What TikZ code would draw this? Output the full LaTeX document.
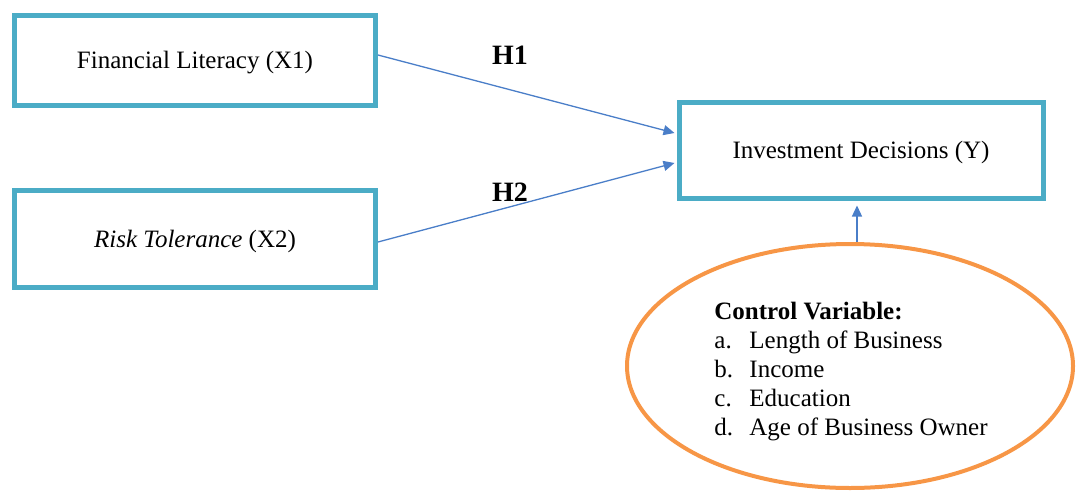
\documentclass[tikz,border=0pt]{standalone}
\usepackage{fontspec}
\setmainfont{Liberation Serif}
\usepackage{tikz}
\usetikzlibrary{shapes,arrows.meta}

\definecolor{boxteal}{HTML}{4BACC6}
\definecolor{ctrlorange}{HTML}{F79646}
\definecolor{linkblue}{HTML}{4A7EC8}

\newcommand{\ctrlitem}[2]{\makebox[17.5pt][l]{#1}#2}

\tikzset{
  varbox/.style={draw=boxteal,line width=2.5pt,rectangle,minimum width=180.5pt,
    font=\fontsize{12.5}{14.5}\selectfont,inner sep=0pt,text depth=0pt},
  ctrlbox/.style={draw=ctrlorange,line width=2pt,ellipse,minimum width=223pt,
    minimum height=122pt,inner sep=0pt},
  ctrltext/.style={align=left,inner sep=0pt,font=\fontsize{12.5}{14.5}\selectfont},
  link/.style={draw=linkblue,line width=0.65pt,-{Triangle[length=5.5pt,width=5pt]}},
  hyp/.style={font=\fontsize{14}{16}\selectfont\bfseries}
}

\begin{document}
\begin{tikzpicture}[x=0.5pt,y=-0.5pt]
\useasboundingbox (0,0) rectangle (1076,493);
\node[varbox,minimum height=45pt] (fin) at (195,60) {Financial Literacy (X1)};
\node[varbox,minimum height=48.5pt] (risk) at (195,239) {\textit{Risk Tolerance} (X2)};
\node[varbox,minimum width=182pt,minimum height=48pt] (inv) at (861,150) {Investment Decisions (Y)};
\node[ctrlbox] (ctrl) at (850,366) {};
\node[ctrltext] (ctrlvars) at (851,372) {\textbf{Control Variable:}\\
  \ctrlitem{a.}{Length of Business}\\
  \ctrlitem{b.}{Income}\\
  \ctrlitem{c.}{Education}\\
  \ctrlitem{d.}{Age of Business Owner}};
\node[hyp] (h1) at (510,55) {H1};
\node[hyp] (h2) at (510,192) {H2};
\draw[link] ([yshift=2.5pt]fin.east) -- ([xshift=-1pt,yshift=8.5pt]inv.west);
\draw[link] ([yshift=-1.5pt]risk.east) -- ([xshift=-1pt,yshift=-6.5pt]inv.west);
\draw[link,shorten >=2.5pt] ([xshift=-2pt]inv.south |- ctrl.north) -- ([xshift=-2pt]inv.south);
\end{tikzpicture}
\end{document}
